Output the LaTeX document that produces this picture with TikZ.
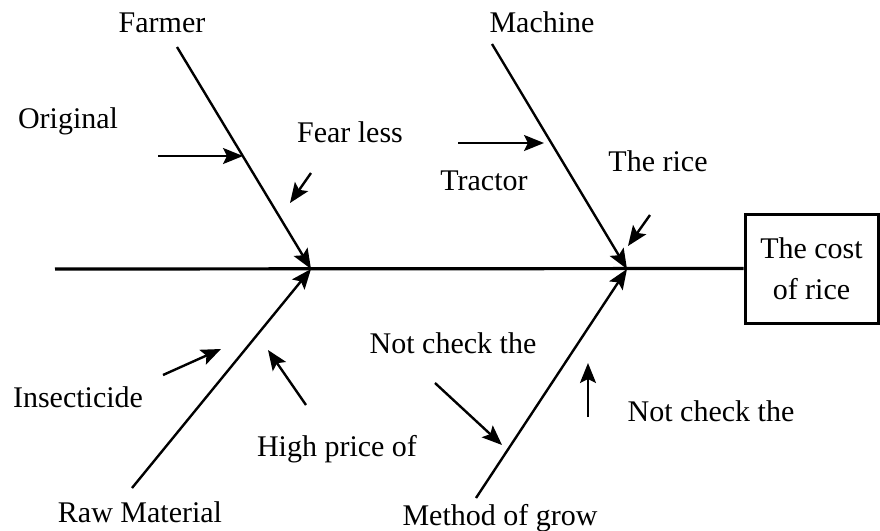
\documentclass[tikz,border=0pt]{standalone}
\usepackage{fontspec}
\setmainfont{Liberation Serif}
\usetikzlibrary{arrows.meta}
\begin{document}
\begin{tikzpicture}[x=0.5pt,y=-0.5pt,
	spine/.style={line width=1.6pt},
	bone/.style={line width=1.2pt, -{Stealth[length=10pt,width=8pt,inset=2pt]}},
	lbl/.style={font=\fontsize{15}{20.5}\selectfont, inner sep=0pt, anchor=base}]
	\useasboundingbox (0,0) rectangle (880,531);
	% effect box and spine
	\node [draw, line width=1.5pt, minimum width=66.5pt, minimum height=54.5pt, align=center,
		font=\fontsize{15}{20.5}\selectfont] (effect) at (811.5,268.5) {The cost\\of rice};
	\coordinate (tail) at (55,269);
	\coordinate (j1) at (311,269);
	\coordinate (j2) at (627,269);
	\draw [spine] (tail) -- (effect.west);
	% main bones
	\coordinate (farmer end) at (177,47);
	\coordinate (machine end) at (492,44);
	\coordinate (raw end) at (132,488);
	\coordinate (method end) at (476,498);
	\draw [bone] (farmer end) -- (j1);
	\draw [bone] (machine end) -- (j2);
	\draw [bone] (raw end) -- (j1);
	\draw [bone] (method end) -- (j2);
	% bone labels
	\node [lbl] (farmer) at (162,32) {Farmer};
	\node [lbl] (machine) at (542,32) {Machine};
	\node [lbl] (raw) at (140,522) {Raw Material};
	\node [lbl] (method) at (500,525) {Method of grow};
	% causes
	\coordinate (c1a) at (158,156);  \coordinate (c1b) at (243,156);
	\coordinate (c2a) at (311,173);  \coordinate (c2b) at (290,203);
	\coordinate (c3a) at (458,143);  \coordinate (c3b) at (544,143);
	\coordinate (c4a) at (650,215);  \coordinate (c4b) at (628,246);
	\coordinate (c5a) at (163,375);  \coordinate (c5b) at (221,349);
	\coordinate (c6a) at (306,405);  \coordinate (c6b) at (268,350);
	\coordinate (c7a) at (435,383);  \coordinate (c7b) at (502,445);
	\coordinate (c8a) at (588,417);  \coordinate (c8b) at (588,363);
	\foreach \c in {1,...,8}
		\draw [bone] (c\c a) -- (c\c b);
	\node [lbl] (original) at (68,128) {Original};
	\node [lbl] (fear) at (350,142) {Fear less};
	\node [lbl] (tractor) at (484,190) {Tractor};
	\node [lbl] (rice) at (658,171) {The rice};
	\node [lbl] (insecticide) at (78,407) {Insecticide};
	\node [lbl] (price) at (337,456) {High price of};
	\node [lbl] (check1) at (453,353) {Not check the};
	\node [lbl] (check2) at (711,421) {Not check the};
\end{tikzpicture}
\end{document}
